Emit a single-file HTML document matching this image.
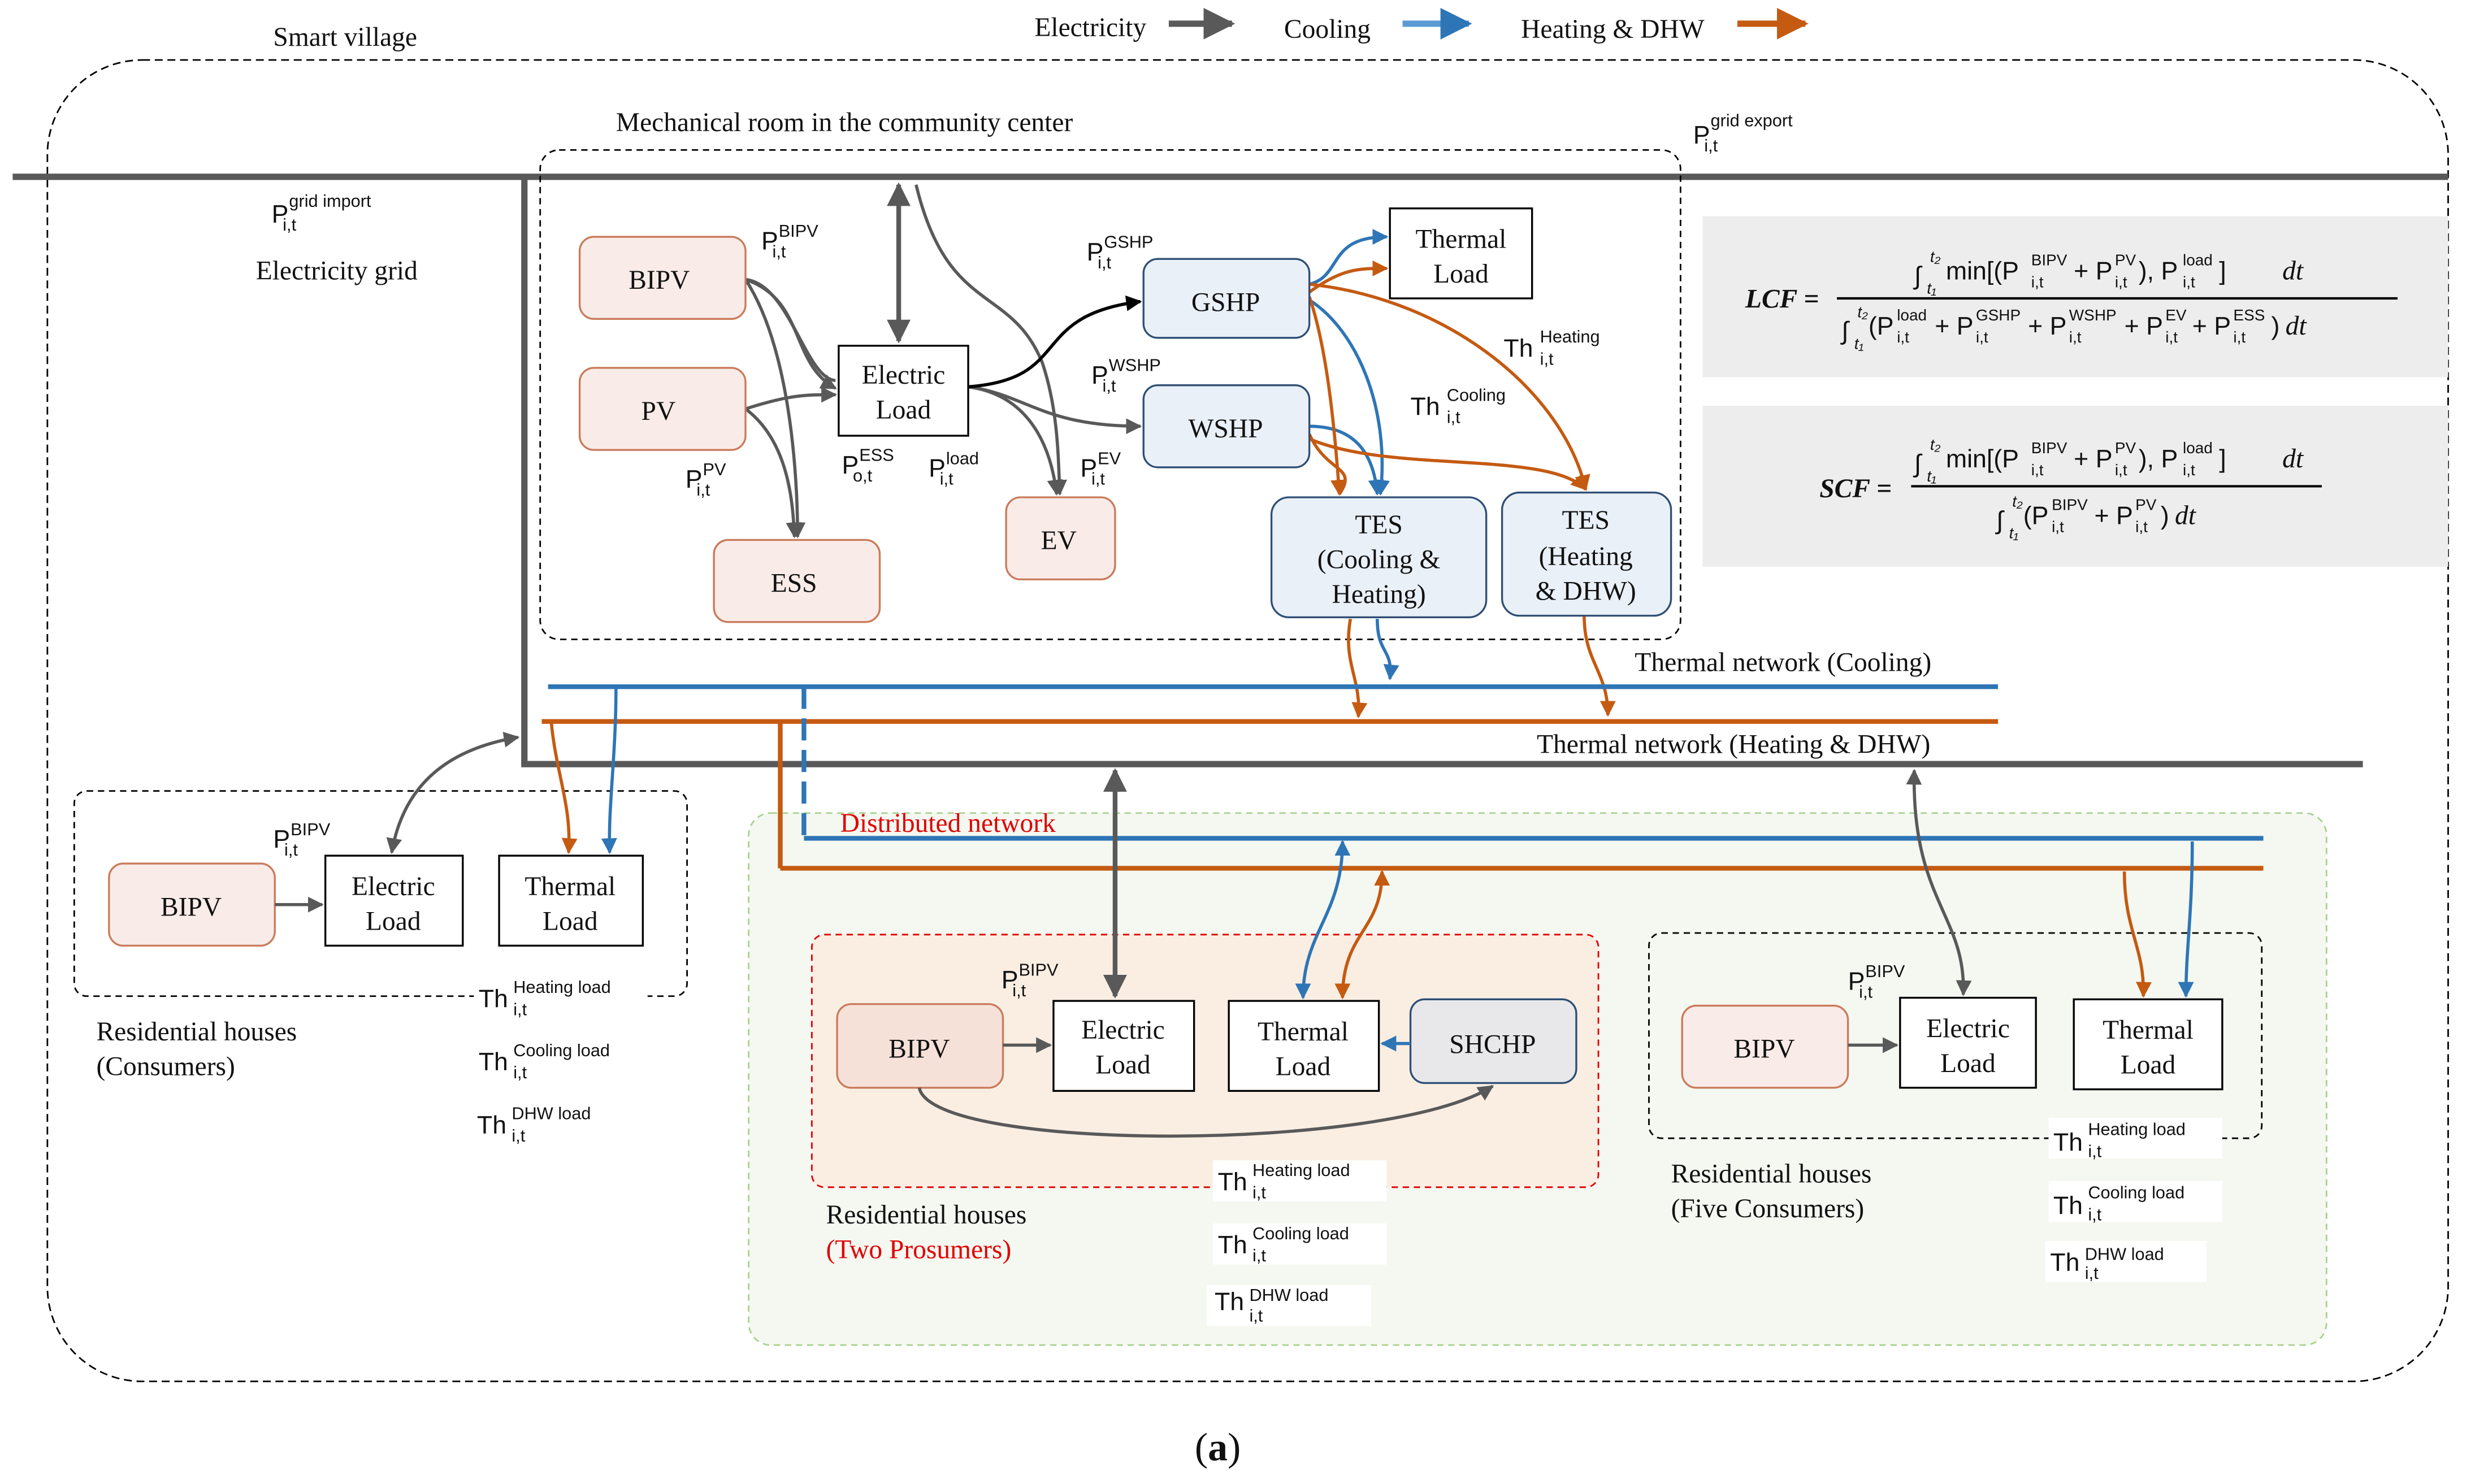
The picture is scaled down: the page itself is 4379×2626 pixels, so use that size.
<!DOCTYPE html>
<html><head><meta charset="utf-8"><style>
html,body{margin:0;padding:0;background:#fff}
svg{display:block}
text{font-family:"Liberation Serif",serif;font-size:17px;fill:#111}
.s{font-family:"Liberation Sans",sans-serif;font-size:16px}
.sup,.sub{font-family:"Liberation Sans",sans-serif;font-size:11px}
.f{font-family:"Liberation Sans",sans-serif;font-size:16px}
.fs{font-family:"Liberation Sans",sans-serif;font-size:10px}
.it{font-family:"Liberation Serif",serif;font-style:italic;font-size:17px}
</style></head><body>
<svg width="4379" height="2626" viewBox="0 0 1567 940" preserveAspectRatio="none" xmlns="http://www.w3.org/2000/svg">
<defs>
<marker id="ag" viewBox="0 0 10 10" refX="9" refY="5" markerWidth="5" markerHeight="5" orient="auto-start-reverse"><path d="M0,0L10,5L0,10z" fill="#595959"/></marker>
<marker id="ab" viewBox="0 0 10 10" refX="9" refY="5" markerWidth="5" markerHeight="5" orient="auto-start-reverse"><path d="M0,0L10,5L0,10z" fill="#2e75b6"/></marker>
<marker id="ao" viewBox="0 0 10 10" refX="9" refY="5" markerWidth="5" markerHeight="5" orient="auto-start-reverse"><path d="M0,0L10,5L0,10z" fill="#c55a11"/></marker>
<marker id="ak" viewBox="0 0 10 10" refX="9" refY="5" markerWidth="5" markerHeight="5" orient="auto-start-reverse"><path d="M0,0L10,5L0,10z" fill="#000"/></marker>
</defs>
<text x="655" y="23">Electricity</text>
<line x1="740" y1="15" x2="780" y2="15" stroke="#595959" stroke-width="4" marker-end="url(#ag)"/>
<text x="813" y="24">Cooling</text>
<line x1="888" y1="15" x2="930" y2="15" stroke="#5b9bd5" stroke-width="4" marker-end="url(#ab)"/>
<text x="963" y="24">Heating &amp; DHW</text>
<line x1="1100" y1="15" x2="1143" y2="15" stroke="#c55a11" stroke-width="4" marker-end="url(#ao)"/>
<text x="173" y="29">Smart village</text>
<rect x="30" y="38" width="1520" height="837" rx="60" fill="none" stroke="#000" stroke-width="1" stroke-dasharray="5,3"/>
<rect x="1078" y="137" width="472" height="102" fill="#ededed"/>
<rect x="1078" y="257" width="472" height="102" fill="#ededed"/>
<text x="1105" y="195" class="it" style="font-weight:bold">LCF =</text>
<line x1="1163" y1="189" x2="1518" y2="189" stroke="#000" stroke-width="1.5"/>
<text x="1212" y="180" class="f">∫</text><text x="1222" y="166" class="fs" style="font-style:italic">t₂</text><text x="1220" y="186" class="fs" style="font-style:italic">t₁</text>
<text x="1232" y="177" class="f">min[(P</text><text x="1286" y="168" class="fs">BIPV</text><text x="1286" y="182" class="fs">i,t</text>
<text x="1313" y="177" class="f">+ P</text><text x="1339" y="168" class="fs">PV</text><text x="1339" y="182" class="fs">i,t</text>
<text x="1354" y="177" class="f">), P</text><text x="1382" y="168" class="fs">load</text><text x="1382" y="182" class="fs">i,t</text>
<text x="1405" y="177" class="f">]</text><text x="1445" y="177" class="it">dt</text>
<text x="1166" y="215" class="f">∫</text><text x="1176" y="201" class="fs" style="font-style:italic">t₂</text><text x="1174" y="221" class="fs" style="font-style:italic">t₁</text>
<text x="1183" y="212" class="f">(P</text><text x="1201" y="203" class="fs">load</text><text x="1201" y="217" class="fs">i,t</text>
<text x="1225" y="212" class="f">+ P</text><text x="1251" y="203" class="fs">GSHP</text><text x="1251" y="217" class="fs">i,t</text>
<text x="1284" y="212" class="f">+ P</text><text x="1310" y="203" class="fs">WSHP</text><text x="1310" y="217" class="fs">i,t</text>
<text x="1345" y="212" class="f">+ P</text><text x="1371" y="203" class="fs">EV</text><text x="1371" y="217" class="fs">i,t</text>
<text x="1388" y="212" class="f">+ P</text><text x="1414" y="203" class="fs">ESS</text><text x="1414" y="217" class="fs">i,t</text>
<text x="1438" y="212" class="f">)</text><text x="1447" y="212" class="it">dt</text>
<text x="1152" y="315" class="it" style="font-weight:bold">SCF =</text>
<line x1="1210" y1="308" x2="1470" y2="308" stroke="#000" stroke-width="1.5"/>
<text x="1212" y="299" class="f">∫</text><text x="1222" y="285" class="fs" style="font-style:italic">t₂</text><text x="1220" y="305" class="fs" style="font-style:italic">t₁</text>
<text x="1232" y="296" class="f">min[(P</text><text x="1286" y="287" class="fs">BIPV</text><text x="1286" y="301" class="fs">i,t</text>
<text x="1313" y="296" class="f">+ P</text><text x="1339" y="287" class="fs">PV</text><text x="1339" y="301" class="fs">i,t</text>
<text x="1354" y="296" class="f">), P</text><text x="1382" y="287" class="fs">load</text><text x="1382" y="301" class="fs">i,t</text>
<text x="1405" y="296" class="f">]</text><text x="1445" y="296" class="it">dt</text>
<text x="1264" y="335" class="f">∫</text><text x="1274" y="321" class="fs" style="font-style:italic">t₂</text><text x="1272" y="341" class="fs" style="font-style:italic">t₁</text>
<text x="1281" y="332" class="f">(P</text><text x="1299" y="323" class="fs">BIPV</text><text x="1299" y="337" class="fs">i,t</text>
<text x="1326" y="332" class="f">+ P</text><text x="1352" y="323" class="fs">PV</text><text x="1352" y="337" class="fs">i,t</text>
<text x="1368" y="332" class="f">)</text><text x="1377" y="332" class="it">dt</text>
<line x1="8" y1="112" x2="1550" y2="112" stroke="#595959" stroke-width="4"/>
<line x1="332" y1="112" x2="332" y2="484" stroke="#595959" stroke-width="4"/>
<line x1="330" y1="484" x2="1496" y2="484" stroke="#595959" stroke-width="4"/>
<text x="1072" y="91" class="s">P</text><text x="1083" y="80" class="sup">grid export</text><text x="1079" y="96" class="sup">i,t</text>
<text x="172" y="141" class="s">P</text><text x="183" y="131" class="sup">grid import</text><text x="179" y="146" class="sup">i,t</text>
<text x="162" y="177">Electricity grid</text>
<text x="390" y="83">Mechanical room in the community center</text>
<rect x="342" y="95" width="722" height="310" rx="12" fill="none" stroke="#000" stroke-dasharray="4,3"/>
<g fill="none" stroke="#595959" stroke-width="2">
<line x1="569" y1="117" x2="569" y2="216" stroke-width="3" marker-start="url(#ag)" marker-end="url(#ag)"/>
<path d="M472,177 C510,190 500,230 529,246" marker-end="url(#ag)"/>
<path d="M472,259 C500,250 510,250 529,250" marker-end="url(#ag)"/>
<path d="M472,177 C500,220 505,300 505,340" marker-end="url(#ag)"/>
<path d="M472,259 C500,280 502,320 503,340" marker-end="url(#ag)"/>
<path d="M472,177 C500,180 510,240 529,241"/>
<path d="M613,245 C650,250 660,270 722,270" marker-end="url(#ag)"/>
<path d="M613,245 C650,250 665,280 669,313" marker-end="url(#ag)"/>
<path d="M580,117 C600,200 640,180 660,230 C670,260 670,290 671,313" marker-end="url(#ag)"/>
</g>
<path d="M613,245 C680,240 650,200 722,191" fill="none" stroke="#000" stroke-width="2" marker-end="url(#ak)"/>
<g fill="none" stroke="#2e75b6" stroke-width="2">
<path d="M829,180 C850,175 840,150 878,150" marker-end="url(#ab)"/>
<path d="M829,190 C860,210 880,260 874,313" marker-end="url(#ab)"/>
<path d="M829,270 C860,270 870,290 872,313" marker-end="url(#ab)"/>
<path d="M872,392 C872,415 882,410 880,430" marker-end="url(#ab)"/>
</g>
<g fill="none" stroke="#c55a11" stroke-width="2">
<path d="M829,185 C850,170 860,170 878,170" marker-end="url(#ao)"/>
<path d="M829,188 C840,220 845,270 848,313" marker-end="url(#ao)"/>
<path d="M829,180 C920,190 990,250 1004,310" marker-end="url(#ao)"/>
<path d="M829,275 C840,300 860,295 848,313"/>
<path d="M829,278 C880,300 980,285 1004,310" marker-end="url(#ao)"/>
<path d="M855,392 C850,420 862,430 860,454" marker-end="url(#ao)"/>
<path d="M1003,390 C1003,420 1018,425 1018,453" marker-end="url(#ao)"/>
</g>
<g stroke="#c97b5a" fill="#f9ebe8" stroke-width="1.2">
<rect x="367" y="150" width="105" height="52" rx="9"/>
<rect x="367" y="233" width="105" height="52" rx="9"/>
<rect x="452" y="342" width="105" height="52" rx="9"/>
<rect x="637" y="315" width="69" height="52" rx="9"/>
</g>
<text x="398" y="183">BIPV</text><text x="406" y="266">PV</text><text x="488" y="375">ESS</text><text x="659" y="348">EV</text>
<rect x="531" y="219" width="82" height="57" fill="#fff" stroke="#000" stroke-width="1.2"/>
<text x="572" y="243" text-anchor="middle">Electric</text><text x="572" y="265" text-anchor="middle">Load</text>
<g stroke="#2f4f75" fill="#eaf0f8" stroke-width="1.2">
<rect x="724" y="164" width="105" height="50" rx="9"/>
<rect x="724" y="244" width="105" height="52" rx="9"/>
<rect x="805" y="315" width="136" height="76" rx="11"/>
<rect x="951" y="312" width="107" height="78" rx="11"/>
</g>
<text x="776" y="197" text-anchor="middle">GSHP</text><text x="776" y="277" text-anchor="middle">WSHP</text>
<text x="873" y="338" text-anchor="middle">TES</text><text x="873" y="360" text-anchor="middle">(Cooling &amp;</text><text x="873" y="382" text-anchor="middle">Heating)</text>
<text x="1004" y="335" text-anchor="middle">TES</text><text x="1004" y="358" text-anchor="middle">(Heating</text><text x="1004" y="380" text-anchor="middle">&amp; DHW)</text>
<rect x="880" y="132" width="90" height="57" fill="#fff" stroke="#000" stroke-width="1.2"/>
<text x="925" y="157" text-anchor="middle">Thermal</text><text x="925" y="179" text-anchor="middle">Load</text>
<text x="482" y="158" class="s">P</text><text x="493" y="150" class="sup">BIPV</text><text x="489" y="163" class="sup">i,t</text>
<text x="434" y="309" class="s">P</text><text x="445" y="301" class="sup">PV</text><text x="441" y="314" class="sup">i,t</text>
<text x="533" y="300" class="s">P</text><text x="544" y="292" class="sup">ESS</text><text x="540" y="305" class="sup">o,t</text>
<text x="588" y="302" class="s">P</text><text x="599" y="294" class="sup">load</text><text x="595" y="307" class="sup">i,t</text>
<text x="684" y="302" class="s">P</text><text x="695" y="294" class="sup">EV</text><text x="691" y="307" class="sup">i,t</text>
<text x="688" y="165" class="s">P</text><text x="699" y="157" class="sup">GSHP</text><text x="695" y="170" class="sup">i,t</text>
<text x="691" y="243" class="s">P</text><text x="702" y="235" class="sup">WSHP</text><text x="698" y="248" class="sup">i,t</text>
<text x="952" y="226" class="s">Th</text><text x="975" y="217" class="sup">Heating</text><text x="975" y="231" class="sup">i,t</text>
<text x="893" y="263" class="s">Th</text><text x="916" y="254" class="sup">Cooling</text><text x="916" y="268" class="sup">i,t</text>
<rect x="474" y="515" width="999" height="337" rx="14" fill="#f4f8f1" stroke="#a9d18e" stroke-dasharray="4,3"/>
<line x1="347" y1="435" x2="1265" y2="435" stroke="#2e75b6" stroke-width="3"/>
<line x1="343" y1="457" x2="1265" y2="457" stroke="#c55a11" stroke-width="3"/>
<text x="1035" y="425">Thermal network (Cooling)</text>
<text x="973" y="477">Thermal network (Heating &amp; DHW)</text>
<line x1="509" y1="435" x2="509" y2="531" stroke="#2e75b6" stroke-width="3" stroke-dasharray="14,6"/>
<line x1="509" y1="531" x2="1433" y2="531" stroke="#2e75b6" stroke-width="3"/>
<line x1="494" y1="457" x2="494" y2="550" stroke="#c55a11" stroke-width="3"/>
<line x1="494" y1="550" x2="1433" y2="550" stroke="#c55a11" stroke-width="3"/>
<text x="532" y="527" style="fill:#e00000">Distributed network</text>
<rect x="47" y="501" width="388" height="130" rx="8" fill="none" stroke="#000" stroke-dasharray="4,3"/>
<rect x="69" y="547" width="105" height="52" rx="9" fill="#f9ebe8" stroke="#c97b5a" stroke-width="1.2"/>
<text x="121" y="580" text-anchor="middle">BIPV</text>
<rect x="206" y="542" width="87" height="57" fill="#fff" stroke="#000" stroke-width="1.2"/>
<text x="249" y="567" text-anchor="middle">Electric</text><text x="249" y="589" text-anchor="middle">Load</text>
<rect x="316" y="542" width="91" height="57" fill="#fff" stroke="#000" stroke-width="1.2"/>
<text x="361" y="567" text-anchor="middle">Thermal</text><text x="361" y="589" text-anchor="middle">Load</text>
<line x1="174" y1="573" x2="204" y2="573" stroke="#595959" stroke-width="2" marker-end="url(#ag)"/>
<path d="M248,540 C255,500 280,475 328,467" fill="none" stroke="#595959" stroke-width="2" marker-start="url(#ag)" marker-end="url(#ag)"/>
<path d="M349,457 C352,490 362,510 360,540" fill="none" stroke="#c55a11" stroke-width="2" marker-end="url(#ao)"/>
<path d="M390,435 C390,480 385,510 386,540" fill="none" stroke="#2e75b6" stroke-width="2" marker-end="url(#ab)"/>
<text x="173" y="537" class="s">P</text><text x="184" y="529" class="sup">BIPV</text><text x="180" y="542" class="sup">i,t</text>
<text x="61" y="659">Residential houses</text><text x="61" y="681">(Consumers)</text>
<rect x="300" y="620" width="110" height="24" fill="#fff"/>
<text x="303" y="638" class="s">Th</text><text x="325" y="629" class="sup">Heating load</text><text x="325" y="643" class="sup">i,t</text>
<text x="303" y="678" class="s">Th</text><text x="325" y="669" class="sup">Cooling load</text><text x="325" y="683" class="sup">i,t</text>
<text x="302" y="718" class="s">Th</text><text x="324" y="709" class="sup">DHW load</text><text x="324" y="723" class="sup">i,t</text>
<rect x="514" y="592" width="498" height="160" rx="8" fill="#faeee3" stroke="#e00000" stroke-dasharray="4,3"/>
<rect x="530" y="636" width="105" height="53" rx="9" fill="#f5e1d8" stroke="#c97b5a" stroke-width="1.2"/>
<text x="582" y="670" text-anchor="middle">BIPV</text>
<rect x="667" y="634" width="89" height="57" fill="#fff" stroke="#000" stroke-width="1.2"/>
<text x="711" y="658" text-anchor="middle">Electric</text><text x="711" y="680" text-anchor="middle">Load</text>
<rect x="778" y="634" width="95" height="57" fill="#fff" stroke="#000" stroke-width="1.2"/>
<text x="825" y="659" text-anchor="middle">Thermal</text><text x="825" y="681" text-anchor="middle">Load</text>
<rect x="893" y="633" width="105" height="53" rx="9" fill="#e8e8ea" stroke="#2f4f75" stroke-width="1.2"/>
<text x="945" y="667" text-anchor="middle">SHCHP</text>
<line x1="635" y1="662" x2="665" y2="662" stroke="#595959" stroke-width="2" marker-end="url(#ag)"/>
<line x1="893" y1="661" x2="875" y2="661" stroke="#2e75b6" stroke-width="2" marker-end="url(#ab)"/>
<path d="M582,689 C590,730 880,730 945,688" fill="none" stroke="#595959" stroke-width="2" marker-end="url(#ag)"/>
<line x1="706" y1="488" x2="706" y2="631" stroke="#595959" stroke-width="3" marker-start="url(#ag)" marker-end="url(#ag)"/>
<path d="M825,632 C825,590 850,580 850,533" fill="none" stroke="#2e75b6" stroke-width="2" marker-start="url(#ab)" marker-end="url(#ab)"/>
<path d="M850,632 C850,590 875,590 875,552" fill="none" stroke="#c55a11" stroke-width="2" marker-start="url(#ao)" marker-end="url(#ao)"/>
<text x="634" y="626" class="s">P</text><text x="645" y="618" class="sup">BIPV</text><text x="641" y="631" class="sup">i,t</text>
<text x="523" y="775">Residential houses</text><text x="523" y="797" style="fill:#e00000">(Two Prosumers)</text>
<rect x="768" y="735" width="110" height="26" fill="#fff"/><rect x="768" y="775" width="110" height="26" fill="#fff"/><rect x="764" y="814" width="104" height="26" fill="#fff"/>
<text x="771" y="754" class="s">Th</text><text x="793" y="745" class="sup">Heating load</text><text x="793" y="759" class="sup">i,t</text>
<text x="771" y="794" class="s">Th</text><text x="793" y="785" class="sup">Cooling load</text><text x="793" y="799" class="sup">i,t</text>
<text x="769" y="830" class="s">Th</text><text x="791" y="824" class="sup">DHW load</text><text x="791" y="837" class="sup">i,t</text>
<rect x="1044" y="591" width="388" height="130" rx="8" fill="none" stroke="#000" stroke-dasharray="4,3"/>
<rect x="1065" y="637" width="105" height="52" rx="9" fill="#f9ebe8" stroke="#c97b5a" stroke-width="1.2"/>
<text x="1117" y="670" text-anchor="middle">BIPV</text>
<rect x="1203" y="632" width="86" height="57" fill="#fff" stroke="#000" stroke-width="1.2"/>
<text x="1246" y="657" text-anchor="middle">Electric</text><text x="1246" y="679" text-anchor="middle">Load</text>
<rect x="1313" y="633" width="94" height="57" fill="#fff" stroke="#000" stroke-width="1.2"/>
<text x="1360" y="658" text-anchor="middle">Thermal</text><text x="1360" y="680" text-anchor="middle">Load</text>
<line x1="1170" y1="662" x2="1201" y2="662" stroke="#595959" stroke-width="2" marker-end="url(#ag)"/>
<path d="M1243,630 C1245,580 1210,570 1212,488" fill="none" stroke="#595959" stroke-width="2" marker-start="url(#ag)" marker-end="url(#ag)"/>
<path d="M1345,552 C1345,590 1358,600 1357,631" fill="none" stroke="#c55a11" stroke-width="2" marker-end="url(#ao)"/>
<path d="M1388,533 C1388,580 1384,600 1384,631" fill="none" stroke="#2e75b6" stroke-width="2" marker-end="url(#ab)"/>
<text x="1170" y="627" class="s">P</text><text x="1181" y="619" class="sup">BIPV</text><text x="1177" y="632" class="sup">i,t</text>
<text x="1058" y="749">Residential houses</text><text x="1058" y="771">(Five Consumers)</text>
<rect x="1297" y="708" width="110" height="26" fill="#fff"/><rect x="1297" y="748" width="110" height="26" fill="#fff"/><rect x="1295" y="786" width="102" height="26" fill="#fff"/>
<text x="1300" y="729" class="s">Th</text><text x="1322" y="719" class="sup">Heating load</text><text x="1322" y="733" class="sup">i,t</text>
<text x="1300" y="769" class="s">Th</text><text x="1322" y="759" class="sup">Cooling load</text><text x="1322" y="773" class="sup">i,t</text>
<text x="1298" y="805" class="s">Th</text><text x="1320" y="798" class="sup">DHW load</text><text x="1320" y="810" class="sup">i,t</text>
<text x="771" y="925" text-anchor="middle" style="font-size:25px">(<tspan style="font-weight:bold">a</tspan>)</text>
</svg>
</body></html>
